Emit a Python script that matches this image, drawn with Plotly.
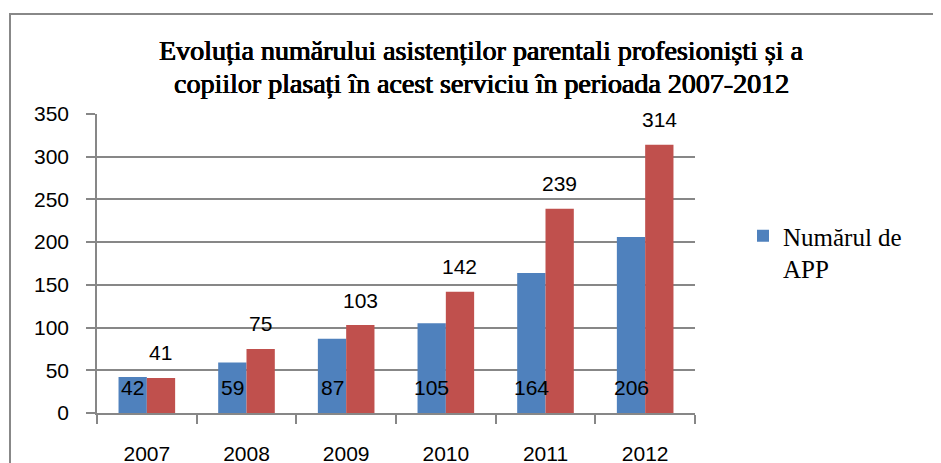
import plotly.graph_objects as go

years = ["2007", "2008", "2009", "2010", "2011", "2012"]
app_values = [42, 59, 87, 105, 164, 206]
copii_values = [41, 75, 103, 142, 239, 314]
legend_name_app = "Numărul de<br>APP"
legend_name_copii = "Numărul de copii"
title_lines = ["Evoluția numărului asistenților parentali profesioniști și a",
               "copiilor plasați în acest serviciu în perioada 2007-2012"]
y_ticks = [0, 50, 100, 150, 200, 250, 300, 350]

# page has an 8px body margin; figure coordinates = screen coordinates - 8
OFF = 8
W, H = 941 - OFF, 463 - OFF
ML, MT = 97 - OFF, 114 - OFF
plot_right, plot_bottom = 695 - OFF, 413 - OFF
MR, MB = W - plot_right, H - plot_bottom
plot_w = W - ML - MR
plot_h = H - MT - MB
bargap = 0.432
cat_w = plot_w / len(years)
bar_w = cat_w * (1 - bargap) / 2
half = bar_w / 2

blue = "#4F81BD"
red = "#C0504D"
grid = "#878787"
num_font = dict(family="Liberation Sans, Arial, sans-serif", size=21, color="black")
serif = "Liberation Serif, Times New Roman, serif"


def px_x(sx):
    return (sx - OFF - ML) / plot_w


def px_y(sy):
    return (plot_bottom - (sy - OFF)) / plot_h


fig = go.Figure()
fig.add_trace(go.Bar(x=years, y=app_values, name=legend_name_app,
                     marker=dict(color=blue, line=dict(width=0))))
fig.add_trace(go.Bar(x=years, y=copii_values, name=legend_name_copii,
                     marker=dict(color=red, line=dict(width=0)), showlegend=False))

annotations = []
for i, v in enumerate(app_values):
    annotations.append(dict(x=i, y=0, xref="x", yref="y", text=str(v), showarrow=False,
                            xshift=-half, yshift=26, yanchor="middle", xanchor="center",
                            font=num_font))
for i, v in enumerate(copii_values):
    annotations.append(dict(x=i, y=v, xref="x", yref="y", text=str(v), showarrow=False,
                            xshift=half, yshift=25, yanchor="middle", xanchor="center",
                            font=num_font))
title_font = dict(family=serif, size=28, color="black",
                  shadow="0.6px 0 0 #000, -0.3px 0 0 #000, 0 0.3px 0 #000")
for line, sy in zip(title_lines, [51, 83]):
    annotations.append(dict(x=px_x(481), y=px_y(sy), xref="paper", yref="paper", text=line,
                            showarrow=False, xanchor="center", yanchor="middle",
                            font=title_font))

fig.update_layout(
    width=W, height=H,
    margin=dict(l=ML, r=MR, t=MT, b=MB, autoexpand=False),
    paper_bgcolor="white", plot_bgcolor="white",
    barmode="group", bargap=bargap, bargroupgap=0,
    legend=dict(x=px_x(743), y=px_y(252),
                xanchor="left", yanchor="middle", valign="top",
                font=dict(family=serif, size=25, color="black"),
                bgcolor="rgba(0,0,0,0)"),
    annotations=annotations,
    shapes=[dict(type="rect", xref="paper", yref="paper",
                 x0=px_x(10), x1=px_x(968), y0=px_y(480), y1=px_y(14),
                 line=dict(color="#888888", width=2), fillcolor="rgba(0,0,0,0)", layer="below")],
    xaxis=dict(type="category", range=[-0.5, len(years) - 0.5], autorange=False,
               showline=True, linecolor=grid, linewidth=1.5,
               ticks="outside", tickson="boundaries", ticklen=9, tickcolor=grid, tickwidth=1.5,
               ticklabelstandoff=21, showgrid=False, tickfont=num_font, tickangle=0),
    yaxis=dict(range=[0, 350], autorange=False, tickvals=y_ticks, showline=True,
               linecolor=grid, linewidth=1.5,
               ticks="outside", ticklen=9, tickcolor=grid, tickwidth=1.5,
               showgrid=True, gridcolor=grid, gridwidth=1.5, zeroline=False,
               ticklabelstandoff=13, tickfont=num_font),
)

fig.write_html("out.html")
